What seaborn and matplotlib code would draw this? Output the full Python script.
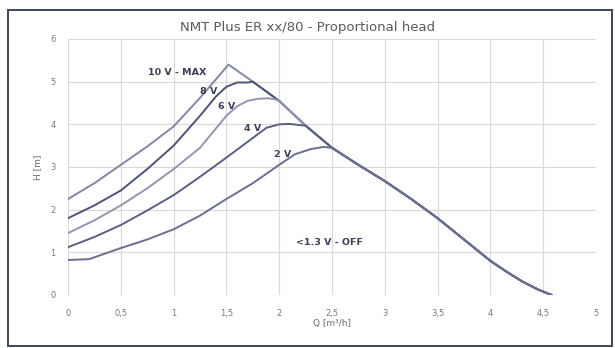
import matplotlib
matplotlib.use("Agg")
import matplotlib.pyplot as plt
from matplotlib.patches import Rectangle
import pandas as pd
import seaborn as sns

# Rising branch of each control-voltage curve (Q in m3/h, H in m)
Q_10V = [0.0, 0.25, 0.5, 0.75, 1.0, 1.25, 1.52]
H_10V = [2.25, 2.62, 3.05, 3.48, 3.95, 4.62, 5.4]

Q_8V = [0.0, 0.25, 0.5, 0.75, 1.0, 1.25, 1.4, 1.5, 1.6, 1.7]
H_8V = [1.8, 2.1, 2.45, 2.95, 3.5, 4.2, 4.65, 4.88, 4.98, 4.98]

Q_6V = [0.0, 0.25, 0.5, 0.75, 1.0, 1.25, 1.4, 1.5, 1.6, 1.7, 1.8, 1.9, 1.97]
H_6V = [1.45, 1.75, 2.1, 2.5, 2.95, 3.45, 3.9, 4.2, 4.42, 4.55, 4.6, 4.61, 4.58]

Q_4V = [0.0, 0.25, 0.5, 0.75, 1.0, 1.25, 1.5, 1.75, 1.88, 2.0, 2.1, 2.2]
H_4V = [1.12, 1.36, 1.64, 1.98, 2.34, 2.77, 3.22, 3.68, 3.92, 4.0, 4.01, 3.98]

Q_2V = [0.0, 0.2, 0.5, 0.75, 1.0, 1.25, 1.5, 1.75, 2.0, 2.15, 2.3, 2.42]
H_2V = [0.82, 0.84, 1.1, 1.3, 1.54, 1.86, 2.25, 2.62, 3.05, 3.3, 3.42, 3.47]

# Common descending branch shared by all curves
TAIL_Q = [1.75, 2.0, 2.25, 2.5, 2.75, 3.0, 3.25, 3.5, 3.75, 4.0, 4.15, 4.3, 4.45, 4.58]
TAIL_H = [5.0, 4.55, 3.97, 3.45, 3.05, 2.67, 2.25, 1.8, 1.3, 0.8, 0.55, 0.32, 0.13, 0.0]

CURVES = ["10 V", "8 V", "6 V", "4 V", "2 V"]
RISE = {"10 V": (Q_10V, H_10V), "8 V": (Q_8V, H_8V), "6 V": (Q_6V, H_6V),
        "4 V": (Q_4V, H_4V), "2 V": (Q_2V, H_2V)}
COLORS = {"10 V": "#8387a0", "8 V": "#4e5274", "6 V": "#9396ad",
          "4 V": "#5b5f80", "2 V": "#6b6f8e"}

LABELS = ["10 V - MAX", "8 V", "6 V", "4 V", "2 V", "<1.3 V - OFF"]
LABEL_Q = [1.03, 1.33, 1.50, 1.75, 2.03, 2.48]
LABEL_H = [5.21, 4.76, 4.41, 3.91, 3.30, 1.22]

X_TICKS = [0, 0.5, 1, 1.5, 2, 2.5, 3, 3.5, 4, 4.5, 5]
X_TICK_LABELS = ["0", "0,5", "1", "1,5", "2", "2,5", "3", "3,5", "4", "4,5", "5"]
Y_TICKS = [0, 1, 2, 3, 4, 5, 6]

rows = []
for name in CURVES:
    q, h = RISE[name]
    qs = list(q) + [t for t in TAIL_Q if t > q[-1]]
    hs = list(h) + [v for t, v in zip(TAIL_Q, TAIL_H) if t > q[-1]]
    rows += [{"Q": a, "H": b, "curve": name} for a, b in zip(qs, hs)]
df = pd.DataFrame(rows)

sns.set_theme(style="whitegrid")
plt.rcParams["font.family"] = ["DejaVu Sans"]

fig = plt.figure(figsize=(6.15, 3.48), dpi=100)
fig.patch.set_facecolor("white")
ax = fig.add_axes([68 / 615, 1 - 295 / 348, 528 / 615, 256 / 348])

sns.lineplot(data=df, x="Q", y="H", hue="curve", palette=COLORS, sort=False,
             estimator=None, legend=False, linewidth=1.4, ax=ax)

ax.set_xlim(0, 5)
ax.set_ylim(0, 6)
ax.set_xticks(X_TICKS)
ax.set_xticklabels(X_TICK_LABELS)
ax.set_yticks(Y_TICKS)
ax.grid(True, color="#d9d9d9", linewidth=0.8)
for s in ax.spines.values():
    s.set_visible(False)
ax.tick_params(axis="both", length=0, labelsize=6, labelcolor="#7a7a7a")
ax.tick_params(axis="x", pad=10)
ax.tick_params(axis="y", pad=9)
ax.set_xlabel("Q [m³/h]", fontsize=6.5, color="#6a6a6a", labelpad=1)
ax.set_ylabel("H [m]", fontsize=6.5, color="#6a6a6a", labelpad=6)

for txt, q, h in zip(LABELS, LABEL_Q, LABEL_H):
    ax.text(q, h, txt, fontsize=6.8, color="#3c3f55", fontweight="semibold",
            ha="center", va="center")

fig.text(0.5, 1 - 28 / 348, "NMT Plus ER xx/80 - Proportional head",
         ha="center", va="center", fontsize=9.5, color="#5a5a5a")

fig.patches.append(Rectangle((8 / 615, 1 - 346 / 348), 604 / 615, 336 / 348,
                             transform=fig.transFigure, fill=False,
                             edgecolor="#3e475a", linewidth=1.4))

fig.savefig("out.png", dpi=100)
